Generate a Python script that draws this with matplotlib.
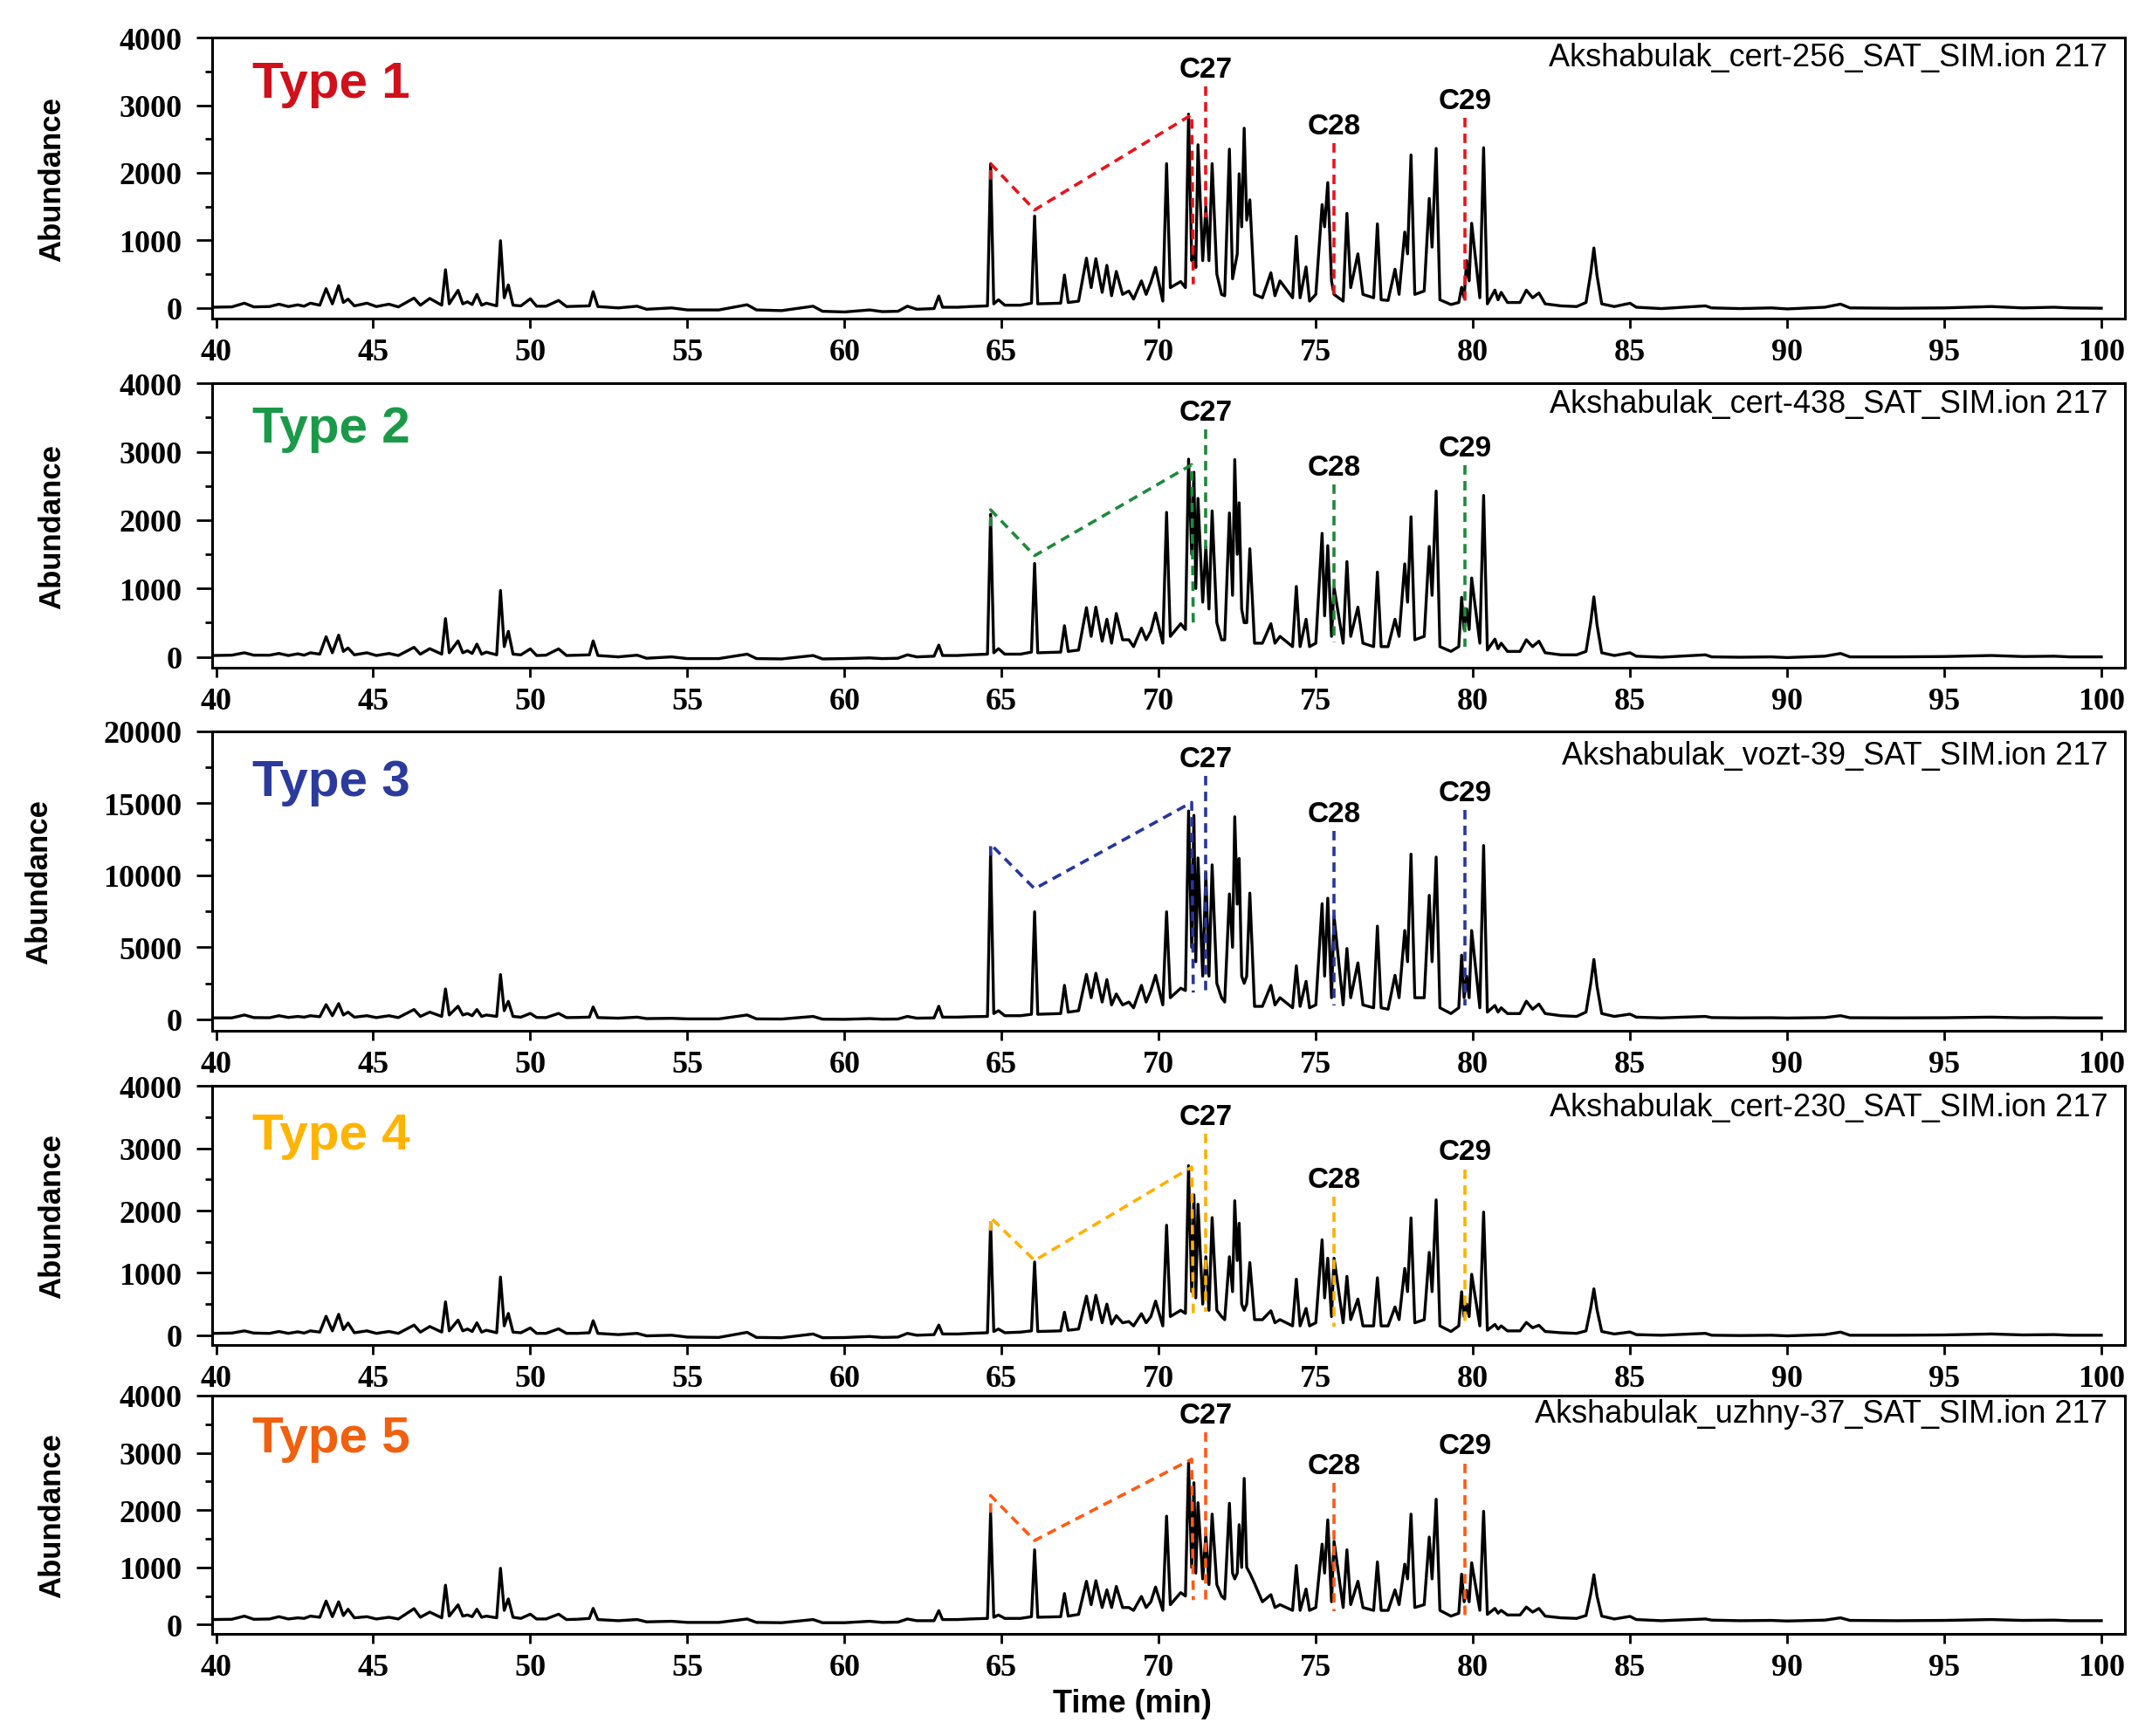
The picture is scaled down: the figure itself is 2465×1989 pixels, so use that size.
import numpy as np
import matplotlib
matplotlib.use('Agg')
import matplotlib.pyplot as plt
from matplotlib.ticker import MultipleLocator

# Retention-time vertices (min), shared by all five traces
rt = [39.9, 40.5, 40.9, 41.2, 41.7, 42.0, 42.3, 42.6, 42.8, 43.0, 43.3, 43.5, 43.7, 43.9, 44.05, 44.2, 44.4, 44.8, 45.1,
      45.5, 45.8, 46.3, 46.5, 46.8, 47.18, 47.3, 47.42, 47.7, 47.85, 48.0, 48.15, 48.3, 48.45, 48.6, 48.93, 49.05, 49.17, 49.3, 49.45, 49.7,
      50.0, 50.2, 50.5, 50.9, 51.15, 51.5, 51.88, 52.0, 52.15, 52.8, 53.4, 53.7, 54.5, 55.0, 56.0,
      56.9, 57.2, 58.0, 59.0, 59.3, 60.0, 60.8, 61.2, 61.7, 62.0, 62.3, 62.85, 63.0, 63.12, 63.6, 64.0, 64.55,
      64.65, 64.75, 64.9, 65.1, 65.6, 65.95, 66.05, 66.15, 66.88, 67.0, 67.12, 67.45,
      67.7, 67.85, 68.0, 68.2, 68.35, 68.5, 68.65, 68.85, 69.05, 69.2, 69.45, 69.6, 69.75, 69.9, 70.13, 70.25, 70.37,
      70.7, 70.85, 70.95, 71.05, 71.12, 71.18, 71.25, 71.4, 71.5, 71.6, 71.7, 71.85, 72.0, 72.1,
      72.25, 72.35, 72.42, 72.5, 72.56, 72.64, 72.72, 72.8, 72.9, 73.05,
      73.3, 73.57, 73.7, 73.86, 74.26, 74.38, 74.5, 74.69, 74.8, 75.0,
      75.2, 75.28, 75.38, 75.5, 75.58, 75.87, 75.99, 76.11, 76.34, 76.5, 76.84, 76.96, 77.08, 77.3,
      77.52, 77.65, 77.83, 77.92, 78.03, 78.15, 78.45, 78.61, 78.7, 78.83, 78.95, 79.3, 79.55, 79.64, 79.72, 79.8, 79.88, 79.96, 80.22,
      80.34, 80.46, 80.7, 80.8, 80.9, 81.1, 81.5, 81.7, 81.9, 82.1, 82.3, 82.8, 83.3, 83.6, 83.75, 83.85, 83.95, 84.1, 84.5, 85.0, 85.2,
      86.0, 87.4, 87.6, 88.5, 89.5, 90.0, 91.2, 91.7, 92.0, 93.5, 95.0, 96.5, 97.5, 98.5, 99.0, 100.0]

type1 = [10, 15, 70, 15, 20, 55, 20, 45, 25, 70, 40, 285, 60, 330, 80, 130, 30, 70, 20,
         55, 15, 145, 40, 140, 40, 565, 60, 260, 60, 90, 50, 200, 40, 70, 30, 995, 150, 340, 40, 30,
         135, 25, 25, 110, 20, 25, 30, 240, 20, 0, 25, -20, 0, -30, -30,
         47, -30, -40, 25, -50, -60, -30, -55, -50, 25, -20, -10, 176, 10, 10, 20, 30,
         2130, 60, 120, 40, 40, 70, 1360, 60, 70, 487, 80, 100,
         736, 300, 728, 230, 630, 180, 540, 200, 250, 130, 400, 200, 380, 600, 100, 2135, 300,
         390, 300, 2868, 700, 900, 600, 2415, 700, 1500, 700, 2135, 500, 200, 180,
         2350, 430, 600, 800, 1985, 1200, 2660, 1300, 1600, 200,
         150, 520, 180, 400, 150, 1060, 150, 607, 100, 200,
         1530, 1200, 1855, 400, 200, 100, 1400, 300, 800, 200, 150, 1245, 120, 110,
         573, 200, 1123, 800, 2265, 200, 250, 1620, 900, 2360, 120, 50, 80, 305, 150, 700, 400, 1253, 150,
         2372, 60, 263, 120, 230, 80, 80, 263, 150, 220, 60, 30, 20, 80, 520, 887, 480, 60, 20, 69, 10,
         -10, 30, 0, -10, 0, -15, 10, 56, 0, -5, 0, 20, 0, 10, 0, -5]

type2 = [20, 25, 60, 25, 25, 50, 20, 45, 25, 60, 40, 294, 60, 318, 80, 130, 30, 60, 20,
         50, 20, 140, 40, 120, 40, 560, 60, 234, 60, 90, 50, 187, 40, 70, 30, 970, 150, 374, 40, 30,
         117, 20, 25, 117, 20, 25, 30, 234, 20, 0, 25, -20, 0, -25, -25,
         40, -25, -30, 20, -30, -25, -15, -25, -20, 30, 0, 10, 173, 20, 20, 30, 40,
         2083, 60, 120, 40, 40, 70, 1367, 60, 70, 456, 80, 100,
         720, 300, 728, 230, 550, 200, 635, 250, 250, 150, 420, 250, 380, 643, 200, 2113, 300,
         485, 400, 2892, 1500, 2700, 1000, 2317, 800, 1615, 700, 2134, 500, 250, 250,
         2104, 900, 2884, 1500, 2253, 700, 500, 500, 1580, 200,
         200, 485, 200, 300, 150, 1030, 150, 550, 150, 200,
         1806, 600, 1627, 300, 1018, 200, 1393, 300, 728, 200, 150, 1240, 150, 150,
         550, 300, 1360, 800, 2049, 250, 300, 1615, 900, 2424, 150, 80, 150, 870, 400, 700, 400, 1154, 200,
         2360, 100, 260, 120, 200, 80, 80, 250, 150, 230, 60, 30, 30, 80, 510, 877, 470, 60, 20, 60, 10,
         -5, 30, 0, -5, 0, -10, 10, 50, 0, 0, 5, 20, 5, 10, 0, 0]

type3 = [100, 100, 300, 120, 110, 250, 130, 200, 150, 250, 180, 1020, 250, 1090, 300, 500, 150, 250, 120,
         250, 120, 680, 200, 500, 200, 2110, 300, 908, 300, 400, 250, 680, 200, 300, 200, 3110, 600, 1250, 200, 150,
         410, 130, 120, 410, 120, 130, 150, 860, 120, 80, 150, 50, 70, 30, 30,
         300, 30, 20, 200, 10, 0, 50, 10, 20, 200, 80, 100, 908, 150, 150, 180, 200,
         11570, 400, 600, 250, 250, 350, 7470, 350, 400, 2360, 500, 600,
         3120, 1500, 3200, 1200, 2760, 1000, 1760, 1000, 1200, 800, 2360, 1200, 2000, 3060, 1000, 7470, 1500,
         2160, 2000, 14470, 5000, 14170, 4000, 11210, 3000, 10170, 3000, 10730, 2500, 1500, 1200,
         8710, 5000, 14070, 8000, 11170, 3000, 2500, 3000, 8770, 900,
         900, 2360, 1000, 1500, 800, 3720, 900, 2640, 800, 1000,
         8030, 3000, 8410, 1500, 7170, 1000, 4920, 1500, 3920, 1000, 800, 6470, 800, 700,
         3060, 1500, 6170, 4000, 11470, 1500, 1500, 8610, 4000, 11270, 800, 400, 800, 4460, 1500, 3000, 1500, 6170, 800,
         12070, 500, 960, 500, 800, 400, 400, 1260, 700, 1060, 400, 250, 200, 500, 2500, 4160, 2300, 400, 200, 360, 150,
         100, 200, 120, 100, 110, 90, 120, 250, 110, 100, 110, 150, 110, 120, 100, 100]

type4 = [30, 35, 70, 35, 30, 60, 30, 55, 35, 70, 50, 304, 70, 336, 90, 196, 40, 70, 30,
         60, 30, 163, 50, 140, 50, 537, 70, 243, 70, 100, 60, 200, 50, 80, 40, 934, 150, 350, 50, 40,
         117, 30, 30, 103, 30, 30, 40, 233, 30, 10, 30, -10, 0, -30, -35,
         47, -35, -40, 20, -40, -37, -20, -35, -30, 30, 0, 10, 163, 20, 20, 30, 40,
         1800, 60, 100, 40, 50, 70, 1175, 60, 70, 370, 80, 100,
         628, 250, 642, 200, 500, 180, 314, 200, 220, 150, 346, 200, 300, 548, 150, 1766, 300,
         400, 350, 2721, 700, 2253, 600, 2103, 500, 1260, 400, 1888, 400, 300, 250,
         1260, 700, 2159, 1200, 1799, 500, 400, 500, 1166, 250,
         250, 393, 200, 250, 150, 900, 150, 431, 150, 200,
         1532, 600, 1237, 300, 1237, 200, 946, 250, 581, 150, 150, 923, 150, 150,
         454, 250, 1073, 700, 1883, 200, 250, 1330, 700, 2173, 150, 60, 150, 698, 300, 500, 300, 979, 150,
         1977, 80, 173, 100, 150, 70, 70, 206, 120, 160, 60, 40, 30, 70, 440, 745, 410, 60, 20, 52, 10,
         0, 30, 0, -5, 0, -10, 10, 50, 0, 0, 5, 20, 5, 10, 0, 0]

type5 = [90, 95, 150, 95, 100, 140, 100, 120, 110, 150, 130, 413, 140, 400, 160, 270, 120, 140, 100,
         130, 100, 280, 130, 220, 120, 690, 150, 347, 150, 170, 140, 270, 130, 150, 120, 985, 250, 450, 130, 110,
         184, 100, 100, 184, 90, 95, 110, 285, 90, 70, 90, 50, 60, 40, 40,
         100, 40, 35, 90, 35, 35, 60, 40, 45, 100, 70, 70, 245, 90, 90, 100, 110,
         1955, 130, 170, 110, 110, 140, 1307, 130, 140, 544, 150, 180,
         758, 350, 768, 300, 609, 300, 668, 300, 300, 250, 494, 300, 400, 658, 250, 1895, 350,
         560, 500, 2828, 1000, 2479, 900, 2130, 800, 1581, 700, 1930, 700, 500, 450,
         2120, 900, 800, 900, 1746, 1000, 2554, 1000, 900, 720,
         400, 524, 300, 350, 250, 1033, 250, 623, 250, 300,
         1407, 900, 1831, 400, 1456, 300, 1307, 350, 758, 300, 250, 1097, 250, 250,
         608, 350, 1057, 800, 1930, 300, 350, 1531, 800, 2190, 250, 150, 200, 883, 400, 600, 400, 1082, 250,
         1980, 180, 284, 200, 250, 170, 170, 309, 220, 284, 150, 120, 110, 160, 540, 873, 500, 150, 100, 145, 90,
         70, 100, 80, 70, 75, 65, 80, 120, 75, 70, 75, 90, 75, 80, 70, 70]

# dashed "V" guide (apex, apex, valley, apex, drop)
v_rt = [64.65, 64.65, 66.05, 71.05, 71.1]
type1_v = [1900, 2135, 1450, 2860, 350]
type2_v = [1910, 2150, 1480, 2810, 460]
type3_v = [11370, 12160, 9070, 15070, 1860]
type4_v = [1680, 1890, 1200, 2700, 320]
type5_v = [1955, 2255, 1470, 2890, 430]

# sterane markers
c_names = ['C27', 'C28', 'C29']
c_rt = [71.5, 75.58, 79.75]
type1_c_top = [3277, 2437, 2812]
type1_c_bot = [1339, 177, 90]
type2_c_top = [3327, 2518, 2800]
type2_c_bot = [1530, 210, 145]
type3_c_top = [16880, 13070, 14530]
type3_c_bot = [1860, 960, 960]
type4_c_top = [3237, 2220, 2665]
type4_c_bot = [370, 136, 140]
type5_c_top = [3352, 2479, 2818]
type5_c_bot = [434, 234, 160]

titles = ['Type 1', 'Type 2', 'Type 3', 'Type 4', 'Type 5']
files = ['Akshabulak_cert-256_SAT_SIM.ion 217', 'Akshabulak_cert-438_SAT_SIM.ion 217',
         'Akshabulak_vozt-39_SAT_SIM.ion 217', 'Akshabulak_cert-230_SAT_SIM.ion 217',
         'Akshabulak_uzhny-37_SAT_SIM.ion 217']
ymax = [4000, 4000, 20000, 4000, 4000]

traces = [type1, type2, type3, type4, type5]
vees = [type1_v, type2_v, type3_v, type4_v, type5_v]
c_tops = [type1_c_top, type2_c_top, type3_c_top, type4_c_top, type5_c_top]
c_bots = [type1_c_bot, type2_c_bot, type3_c_bot, type4_c_bot, type5_c_bot]
title_colors = ['#d0101a', '#1a9a48', '#2b3b9c', '#ffb400', '#f0600f']
dash_colors = ['#e8141a', '#1e8a3a', '#27379a', '#ffb000', '#ff5a12']

plt.rcParams['font.family'] = 'Liberation Serif'
plt.rcParams['font.weight'] = 'bold'

fig = plt.figure(figsize=(24.65, 19.9), dpi=100)
boxes = [(0.0986, 0.816, 0.8888, 0.1618),
         (0.0986, 0.615, 0.8888, 0.1638),
         (0.0986, 0.406, 0.8888, 0.1724),
         (0.0986, 0.225, 0.8888, 0.1492),
         (0.0986, 0.0588, 0.8888, 0.1372)]
title_y = [0.835, 0.84, 0.83, 0.81, 0.82]
file_y = [0.93, 0.93, 0.92, 0.92, 0.925]
sans = 'Liberation Sans'

for i in range(5):
    ax = fig.add_axes(boxes[i])
    assert len(traces[i]) == len(rt)
    ax.plot(rt, traces[i], color='black', lw=2.4, zorder=2)
    ax.plot(v_rt, vees[i], color=dash_colors[i], lw=2.6, ls=(0, (3, 2)), zorder=3)
    for name, x, top, bot in zip(c_names, c_rt, c_tops[i], c_bots[i]):
        ax.plot([x, x], [top, bot], color=dash_colors[i], lw=2.6, ls=(0, (3, 2)), zorder=3)
        ax.annotate(name, (x, top), xytext=(0, 3), textcoords='offset points',
                    ha='center', va='bottom', fontsize=24, fontweight='bold', family=sans)

    ax.set_xlim(39.875, 100.75)
    ax.set_ylim(-0.04 * ymax[i], ymax[i])
    ax.xaxis.set_major_locator(MultipleLocator(5))
    ax.yaxis.set_major_locator(MultipleLocator(ymax[i] / 4))
    ax.yaxis.set_minor_locator(MultipleLocator(ymax[i] / 8))
    ax.tick_params(axis='y', which='major', direction='out', length=13, width=2, pad=12, labelsize=26)
    ax.tick_params(axis='y', which='minor', direction='out', length=6, width=2)
    ax.tick_params(axis='x', which='major', direction='out', length=8, width=2, pad=8, labelsize=26)
    for sp in ax.spines.values():
        sp.set_linewidth(2.2)

    ax.set_ylabel('Abundance', fontsize=25, fontweight='bold', family=sans)
    ax.yaxis.set_label_coords(-0.083 if i == 2 else -0.076, 0.5)

    ax.text(0.021, title_y[i], titles[i], transform=ax.transAxes, fontsize=42, fontweight='bold',
            color=title_colors[i], family=sans, ha='left', va='center')
    ax.text(0.991, file_y[i], files[i], transform=ax.transAxes, fontsize=26, fontweight='normal',
            family=sans, ha='right', va='center')

fig.text(0.526, 0.019, 'Time (min)', ha='center', va='center', fontsize=26, fontweight='bold', family=sans)

fig.savefig('out.png', dpi=100, facecolor='white')
